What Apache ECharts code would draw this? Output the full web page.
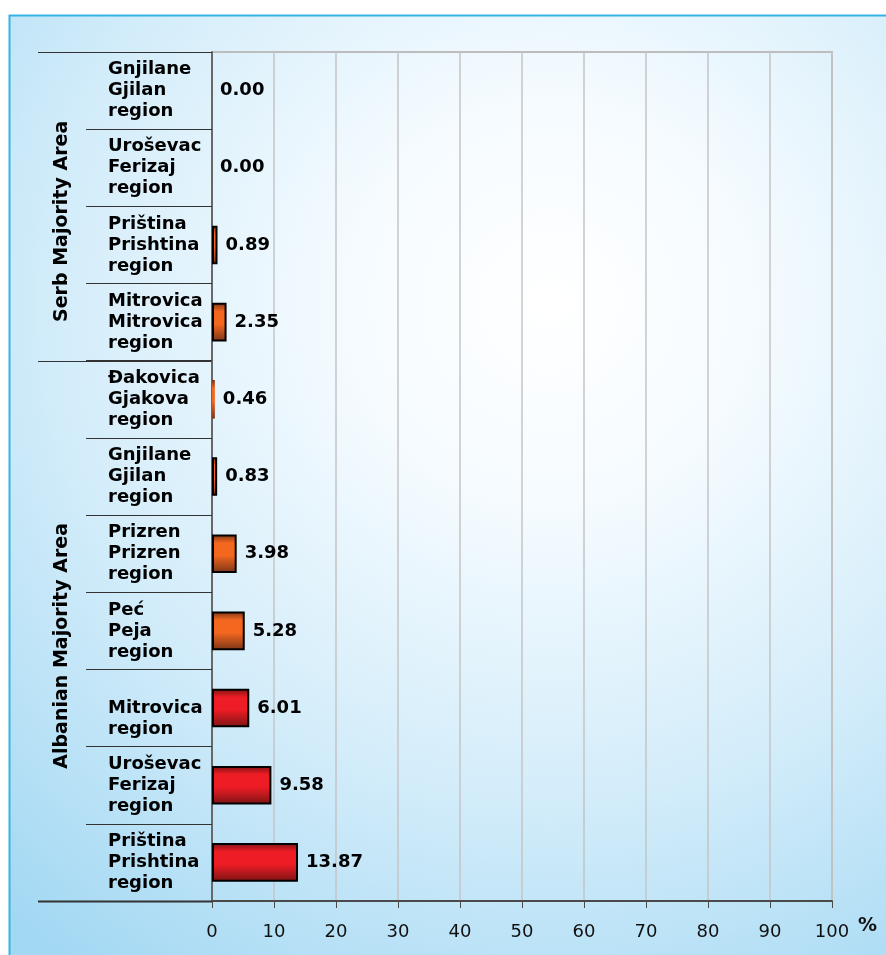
<!DOCTYPE html>
<html>
<head>
<meta charset="utf-8">
<script src="https://cdn.jsdelivr.net/npm/echarts@6/dist/echarts.min.js"></script>
<style>
  html, body { margin: 0; padding: 0; background: #fff; }
  #chart { width: 886px; height: 955px; }
</style>
</head>
<body>
<div id="chart"></div>
<script>
// rows, top to bottom
var regions = [
  'Gnjilane\nGjilan\nregion',
  'Uroševac\nFerizaj\nregion',
  'Priština\nPrishtina\nregion',
  'Mitrovica\nMitrovica\nregion',
  'Đakovica\nGjakova\nregion',
  'Gnjilane\nGjilan\nregion',
  'Prizren\nPrizren\nregion',
  'Peć\nPeja\nregion',
  ' \nMitrovica\nregion',
  'Uroševac\nFerizaj\nregion',
  'Priština\nPrishtina\nregion'
];
var percent = [0.00, 0.00, 0.89, 2.35, 0.46, 0.83, 3.98, 5.28, 6.01, 9.58, 13.87];
// area groups, same order as rows
var groupNames = ['Serb Majority Area', 'Albanian Majority Area'];
var groupSizes = [4, 7];
var xTicks = [0, 10, 20, 30, 40, 50, 60, 70, 80, 90, 100];

var FONT = 'DejaVu Sans';
var W = 886, H = 955;
var GRID = { left: 212, right: 54, top: 52, bottom: 54 };

function barGradient(dark, bright) {
  return new echarts.graphic.LinearGradient(0, 0, 0, 1, [
    { offset: 0, color: dark },
    { offset: 0.22, color: bright },
    { offset: 0.55, color: bright },
    { offset: 1, color: dark }
  ]);
}
var redFill = barGradient('#7a1414', '#ee1c25');
var orangeFill = barGradient('#7a3418', '#f3671f');

// bar items: very thin bars get no outline
var barData = percent.map(function (v) {
  return {
    value: v,
    itemStyle: {
      color: v >= 6 ? redFill : orangeFill,
      borderWidth: v < 0.5 ? 0 : 2
    }
  };
});

// decorations: panel background, group separators and group titles
var plotH = H - GRID.top - GRID.bottom;
var band = plotH / regions.length;

var graphics = [{
  type: 'rect',
  z: -100,
  silent: true,
  shape: { x: 9.5, y: 15.5, width: 900, height: 960 },
  style: {
    fill: new echarts.graphic.RadialGradient(0.6, 0.3, 0.9, [
      { offset: 0, color: '#ffffff' },
      { offset: 0.25, color: '#f5fbff' },
      { offset: 0.6, color: '#d4edfa' },
      { offset: 1, color: '#a3d8f3' }
    ]),
    stroke: '#35b3e6',
    lineWidth: 2
  }
}];

var start = 0;
var bounds = [0];
for (var g = 0; g < groupSizes.length; g++) {
  var yA = GRID.top + start * band;
  var yB = GRID.top + (start + groupSizes[g]) * band;
  graphics.push({
    type: 'text',
    silent: true,
    x: 62,
    y: (yA + yB) / 2 + 15,
    rotation: Math.PI / 2,
    style: {
      text: groupNames[g],
      fontFamily: FONT, fontWeight: 'bold', fontSize: 19, fill: '#000',
      align: 'center', verticalAlign: 'middle'
    }
  });
  start += groupSizes[g];
  bounds.push(start);
}
bounds.forEach(function (b) {
  var y = Math.round(GRID.top + b * band) + 0.5;
  graphics.push({
    type: 'line',
    silent: true,
    shape: { x1: 38, y1: y, x2: GRID.left, y2: y },
    style: { stroke: '#333', lineWidth: b === bounds[bounds.length - 1] ? 2 : 1 }
  });
});

var chart = echarts.init(document.getElementById('chart'));

var option = {
  backgroundColor: '#fff',
  animation: false,
  graphic: graphics,
  grid: {
    left: GRID.left, right: GRID.right, top: GRID.top, bottom: GRID.bottom,
    show: true, borderColor: '#bdbdbd', borderWidth: 2,
    backgroundColor: 'transparent'
  },
  xAxis: {
    type: 'value',
    min: xTicks[0], max: xTicks[xTicks.length - 1], interval: 10,
    name: '%',
    nameLocation: 'end',
    nameGap: 26,
    nameTextStyle: {
      fontFamily: FONT, fontWeight: 'bold', fontSize: 19, color: '#111',
      verticalAlign: 'top', align: 'left', padding: [16, 0, 0, 0]
    },
    axisLine: { show: true, lineStyle: { color: '#4a4a4a', width: 2 } },
    axisTick: { show: true, length: 7, lineStyle: { color: '#4a4a4a' } },
    axisLabel: { fontFamily: FONT, fontSize: 18, color: '#111', margin: 22 },
    splitLine: { show: true, lineStyle: { color: '#c4c4c4', width: 1.5 } }
  },
  yAxis: {
    type: 'category',
    inverse: true,
    data: regions,
    axisLine: { show: true, lineStyle: { color: '#4a4a4a', width: 1.5 } },
    axisTick: { show: true, length: 126, lineStyle: { color: '#333', width: 1 } },
    axisLabel: {
      fontFamily: FONT, fontWeight: 'bold', fontSize: 18, lineHeight: 21,
      color: '#000', align: 'left', margin: 104
    },
    splitLine: { show: false }
  },
  series: [{
    type: 'bar',
    data: barData,
    barWidth: '50%',
    itemStyle: {
      borderColor: '#000',
      borderWidth: 2
    },
    label: {
      show: true,
      position: 'right',
      distance: 8,
      fontFamily: FONT, fontWeight: 'bold', fontSize: 18, color: '#000',
      formatter: function (p) { return p.value.toFixed(2); }
    }
  }]
};
chart.setOption(option);
</script>
</body>
</html>
